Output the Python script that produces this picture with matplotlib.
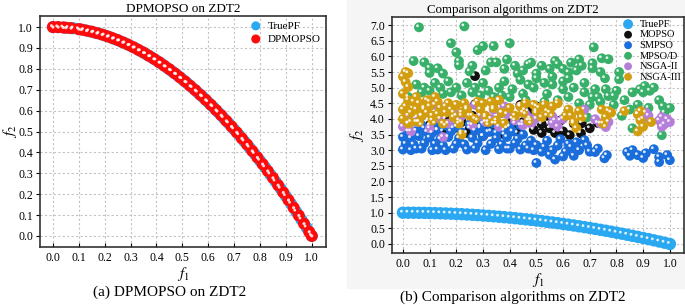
import numpy as np
import matplotlib
matplotlib.use('Agg')
from matplotlib import pyplot as plt
from matplotlib.transforms import ScaledTranslation
from matplotlib.patches import Rectangle

plt.rcParams['font.family'] = ['Liberation Serif', 'DejaVu Serif']
plt.rcParams['mathtext.fontset'] = 'stix'

# true Pareto front of ZDT2
true_f1 = [0.00, 0.02, 0.04, 0.06, 0.08, 0.10, 0.12, 0.14, 0.16, 0.18, 0.20, 0.22, 0.24, 0.26,
           0.28, 0.30, 0.32, 0.34, 0.36, 0.38, 0.40, 0.42, 0.44, 0.46, 0.48, 0.50, 0.52, 0.54,
           0.56, 0.58, 0.60, 0.62, 0.64, 0.66, 0.68, 0.70, 0.72, 0.74, 0.76, 0.78, 0.80, 0.82,
           0.84, 0.86, 0.88, 0.90, 0.92, 0.94, 0.96, 0.98, 1.00]
true_f2 = [1.000, 0.999, 0.998, 0.996, 0.994, 0.990, 0.986, 0.980, 0.974, 0.968, 0.960, 0.952,
           0.942, 0.932, 0.922, 0.910, 0.898, 0.884, 0.870, 0.856, 0.840, 0.824, 0.806, 0.788,
           0.770, 0.750, 0.730, 0.708, 0.686, 0.664, 0.640, 0.616, 0.590, 0.564, 0.538, 0.510,
           0.482, 0.452, 0.422, 0.392, 0.360, 0.328, 0.294, 0.260, 0.226, 0.190, 0.154, 0.116,
           0.078, 0.040, 0.000]

# DPMOPSO solutions
dp_f1 = [0.00, 0.02, 0.04, 0.05, 0.07, 0.10, 0.11, 0.13, 0.15, 0.17, 0.19, 0.21, 0.23, 0.25,
         0.27, 0.29, 0.31, 0.33, 0.35, 0.37, 0.39, 0.41, 0.43, 0.45, 0.47, 0.49, 0.51, 0.53,
         0.55, 0.57, 0.59, 0.61, 0.63, 0.65, 0.67, 0.69, 0.71, 0.73, 0.75, 0.77, 0.79, 0.81,
         0.83, 0.85, 0.87, 0.89, 0.91, 0.93, 0.95, 0.97, 0.99, 1.00]
dp_f2 = [1.000, 1.000, 0.998, 0.997, 0.995, 0.990, 0.988, 0.983, 0.978, 0.971, 0.964, 0.956,
         0.947, 0.938, 0.927, 0.916, 0.904, 0.891, 0.878, 0.863, 0.848, 0.832, 0.815, 0.798,
         0.779, 0.760, 0.740, 0.719, 0.698, 0.675, 0.652, 0.628, 0.603, 0.578, 0.551, 0.524,
         0.496, 0.467, 0.438, 0.407, 0.376, 0.344, 0.311, 0.278, 0.243, 0.208, 0.172, 0.135,
         0.098, 0.059, 0.020, 0.000]

mopso_f1 = [0.27, 0.27, 0.06, 0.10, 0.13, 0.16, 0.19, 0.22, 0.24, 0.26, 0.29, 0.31, 0.33, 0.35,
            0.37, 0.39, 0.41, 0.43, 0.45, 0.47, 0.49, 0.52, 0.52, 0.54, 0.57, 0.59, 0.625, 0.64,
            0.667, 0.67, 0.70, 0.73, 0.36, 0.44, 0.20, 0.30, 0.50, 0.457,
            0.15, 0.28, 0.32, 0.42, 0.48, 0.55, 0.60, 0.38, 0.25]
mopso_f2 = [5.37, 4.47, 3.90, 3.80, 3.65, 4.00, 3.70, 3.90, 3.55, 4.10, 3.75, 4.05, 3.60, 3.85,
            4.20, 3.70, 4.00, 3.55, 3.90, 4.25, 3.65, 3.83, 3.55, 4.10, 3.55, 3.95, 3.48, 3.85,
            3.54, 3.86, 3.70, 3.87, 4.60, 4.45, 4.10, 3.45, 4.40, 4.28,
            3.60, 3.95, 3.80, 3.85, 3.95, 3.70, 3.60, 3.50, 3.70]

smpso_f1 = [0.00, 0.03, 0.05, 0.11, 0.13, 0.16, 0.19, 0.24, 0.27, 0.31, 0.36, 0.40, 0.44,
            0.01, 0.04, 0.08, 0.12, 0.15, 0.20, 0.23, 0.28, 0.33, 0.37, 0.42, 0.46,
            0.00, 0.03, 0.06, 0.10, 0.14, 0.17, 0.21, 0.26, 0.30, 0.35, 0.39, 0.43,
            0.02, 0.05, 0.09, 0.13, 0.18, 0.22, 0.27, 0.32, 0.38, 0.41,
            0.07, 0.16, 0.25, 0.34, 0.44, 0.50,
            0.08, 0.11, 0.20, 0.29, 0.35, 0.40, 0.45, 0.02, 0.12, 0.30, 0.39, 0.07,
            0.47, 0.50, 0.50, 0.52, 0.53, 0.55, 0.56, 0.58, 0.60, 0.61, 0.63, 0.64, 0.66, 0.68,
            0.69, 0.72, 0.73, 0.755, 0.764, 0.54, 0.59, 0.65, 0.48, 0.57, 0.49, 0.62, 0.70,
            0.84, 0.86, 0.88, 0.90, 0.94, 0.96, 0.99, 1.00, 0.96, 0.85, 0.91]
smpso_f2 = [3.02, 3.00, 3.05, 3.00, 3.02, 3.00, 3.05, 3.02, 3.05, 3.00, 3.03, 3.05, 3.02,
            3.20, 3.18, 3.22, 3.20, 3.15, 3.20, 3.18, 3.22, 3.20, 3.18, 3.22, 3.15,
            3.42, 3.38, 3.45, 3.40, 3.35, 3.42, 3.38, 3.40, 3.45, 3.38, 3.42, 3.36,
            3.60, 3.62, 3.58, 3.63, 3.60, 3.57, 3.62, 3.58, 3.62, 3.60,
            3.80, 3.78, 3.82, 3.85, 3.80, 4.18,
            3.70, 3.55, 3.75, 3.70, 3.55, 3.75, 3.50, 3.85, 3.85, 3.85, 3.05, 3.05,
            3.05, 3.16, 2.59, 2.95, 3.10, 2.85, 3.00, 3.15, 2.80, 2.95, 3.10, 2.82, 3.00, 3.32,
            3.15, 2.94, 3.05, 2.74, 2.84, 3.30, 3.35, 3.25, 3.30, 2.70, 3.00, 3.20, 2.95,
            2.94, 3.00, 2.84, 2.75, 3.03, 2.78, 2.84, 2.68, 2.62, 2.82, 2.90]

mpsod_f1 = [0.06, 0.23, 0.18, 0.40, 0.30, 0.34, 0.20, 0.28, 0.04, 0.08, 0.21, 0.21, 0.25, 0.10,
            0.10, 0.13, 0.33, 0.35, 0.715, 0.745, 0.77, 0.71, 0.71, 0.62, 0.53, 0.56, 0.60, 0.757,
            0.81, 0.906, 0.888, 0.80, 0.79, 0.77, 0.71, 0.73, 0.974, 1.00, 0.97,
            0.38, 0.42, 0.45, 0.48, 0.50, 0.52, 0.55, 0.58, 0.60, 0.63, 0.65, 0.67, 0.44, 0.47,
            0.50, 0.38, 0.36, 0.41, 0.45, 0.30, 0.32, 0.27, 0.24, 0.20, 0.17, 0.14, 0.12, 0.08,
            0.05, 0.07, 0.15, 0.22, 0.26, 0.34, 0.40, 0.54, 0.58, 0.62, 0.66, 0.60, 0.64, 0.68,
            0.70, 0.74, 0.79, 0.83, 0.85, 0.88, 0.90, 0.925, 0.94, 0.82,
            0.86, 0.69, 0.46, 0.53, 0.98,
            0.02, 0.10, 0.18, 0.29, 0.37, 0.43, 0.49, 0.56, 0.62, 0.68, 0.72, 0.76, 0.86, 0.92,
            0.96, 0.15, 0.26, 0.31, 0.39, 0.47, 0.57, 0.66, 0.74, 0.81]
mpsod_f2 = [6.93, 6.96, 6.42, 6.42, 6.33, 6.33, 6.13, 6.20, 5.85, 5.81, 5.85, 5.72, 5.52, 5.63,
            5.47, 5.62, 5.81, 5.81, 6.29, 5.94, 5.91, 5.78, 5.62, 5.49, 5.15, 5.10, 5.20, 5.30,
            5.27, 5.05, 4.95, 4.90, 4.73, 4.73, 4.70, 4.70, 4.40, 4.35, 3.48,
            5.60, 5.70, 5.55, 5.80, 5.45, 5.70, 5.60, 5.75, 5.60, 5.80, 5.55, 5.70, 5.25, 5.10,
            5.30, 5.20, 5.00, 4.95, 4.80, 5.15, 4.90, 5.00, 5.15, 5.00, 5.20, 5.00, 5.15, 5.00,
            5.10, 4.85, 4.80, 4.75, 4.85, 4.70, 4.70, 4.80, 4.60, 4.70, 4.50, 4.95, 5.00, 4.85,
            4.45, 4.55, 4.45, 4.60, 4.30, 4.45, 4.85, 4.90, 5.00, 4.10,
            3.70, 4.05, 4.60, 4.55, 4.20,
            4.70, 4.90, 4.85, 4.75, 4.75, 5.45, 5.00, 5.35, 5.30, 5.15, 4.95, 4.95, 4.85, 4.35,
            4.60, 5.45, 5.70, 5.55, 5.90, 5.75, 5.85, 5.90, 5.50, 5.50]

nsga2_f1 = [0.00, 0.02, 0.05, 0.08, 0.10, 0.12, 0.14, 0.15, 0.17, 0.19, 0.21, 0.24, 0.26, 0.29,
            0.31, 0.34, 0.36, 0.39, 0.42, 0.44, 0.476, 0.48, 0.46, 0.56, 0.56, 0.57, 0.72, 0.76,
            0.74, 0.88, 0.91, 0.90, 0.97, 0.99, 0.98, 1.00, 0.96, 0.68, 0.10,
            0.03, 0.07, 0.16, 0.22, 0.27, 0.33, 0.38, 0.45, 0.50, 0.58, 0.60, 0.92, 0.97, 0.77]
nsga2_f2 = [3.75, 4.10, 3.90, 4.30, 3.70, 4.45, 4.00, 3.42, 3.85, 4.20, 3.95, 4.35, 3.80, 4.10,
            3.90, 4.30, 3.75, 4.15, 3.95, 4.40, 4.02, 3.85, 4.15, 4.08, 3.86, 3.95, 3.99, 3.74,
            3.85, 4.15, 4.20, 4.00, 4.06, 3.99, 3.83, 3.90, 3.95, 4.30, 4.55,
            3.60, 4.10, 4.40, 4.10, 4.45, 4.00, 4.40, 3.80, 4.00, 3.75, 4.00, 4.10, 3.75, 3.90]

nsga3_f1 = [0.01, 0.02, 0.01, 0.02, 0.00, 0.02, 0.01, 0.03, 0.00, 0.02, 0.05, 0.06, 0.05, 0.07,
            0.06, 0.09, 0.10, 0.09, 0.11, 0.13, 0.14, 0.13, 0.15, 0.17, 0.18, 0.19, 0.21, 0.22,
            0.23, 0.24, 0.25, 0.28, 0.29, 0.31, 0.33, 0.34, 0.35, 0.36, 0.37, 0.38, 0.44, 0.45,
            0.47, 0.49, 0.50, 0.53, 0.54, 0.56, 0.52, 0.62, 0.63, 0.64, 0.66, 0.65, 0.745, 0.76,
            0.75, 0.78, 0.83, 0.88, 0.89, 0.90, 0.88, 0.93, 0.58,
            0.04, 0.08, 0.12, 0.16, 0.20, 0.27, 0.32, 0.40, 0.42, 0.46, 0.03, 0.00, 0.11, 0.22,
            0.30, 0.51, 0.55, 0.61, 0.67, 0.77, 0.89, 0.00]
nsga3_f2 = [5.50, 5.46, 5.18, 5.02, 4.80, 4.60, 4.40, 4.20, 4.00, 3.85, 4.70, 4.50, 4.30, 4.10,
            3.90, 4.60, 4.40, 4.20, 3.95, 4.55, 4.35, 4.15, 3.85, 4.50, 4.30, 4.05, 3.85, 3.50,
            4.50, 4.30, 4.10, 4.55, 4.30, 4.10, 4.55, 4.35, 3.95, 4.60, 4.20, 3.85, 4.40, 4.20,
            3.95, 4.45, 4.25, 4.45, 4.25, 4.40, 4.05, 4.30, 4.10, 3.90, 4.25, 3.70, 4.30, 4.05,
            3.85, 4.20, 4.25, 4.15, 3.95, 3.75, 3.60, 3.90, 4.50,
            4.55, 4.35, 4.70, 4.20, 4.45, 4.00, 3.90, 4.35, 4.10, 4.50, 3.90, 4.30, 4.10, 4.20,
            4.50, 4.35, 4.20, 4.10, 4.05, 4.25, 4.25, 5.35]

c_true = '#2aa8f2'
c_red = '#ff0a0a'
c_mopso = '#101010'
c_smpso = '#1a6edb'
c_mpsod = '#38b06a'
c_nsga2 = '#b57ed9'
c_nsga3 = '#d29e10'

fig = plt.figure(figsize=(6.85, 3.05), dpi=100)
fig.patches.append(Rectangle((347 / 685, 1 - 288 / 305), 1 - 347 / 685, 288 / 305,
                             transform=fig.transFigure, color='#f5f5f5', zorder=-10))


def balls(ax, x, y, col, s, label, hl=(-1.5, 1.5), hs=4):
    ax.scatter(x, y, s=s, color=col, edgecolors='none', label=label, zorder=3)
    off = ScaledTranslation(hl[0] / 100, hl[1] / 100, fig.dpi_scale_trans)
    ax.scatter(x, y, s=hs, color='white', alpha=0.85, edgecolors='none',
               transform=ax.transData + off, zorder=4)


def style(ax):
    ax.grid(True, ls=(0, (2, 2)), color='#c4c4c4', lw=0.8)
    ax.set_axisbelow(True)
    for sp in ax.spines.values():
        sp.set_color('#333333')
        sp.set_linewidth(1.2)
    ax.tick_params(axis='x', direction='in', labelsize=8.5, length=3)
    ax.tick_params(axis='y', direction='out', labelsize=8.5, length=3, pad=2)
    ax.set_xticks(np.arange(0, 1.01, 0.1))
    ax.set_xlabel('$f_1$', fontsize=11, labelpad=1)
    ax.set_ylabel('$f_2$', fontsize=11)


# (a)
ax1 = fig.add_axes([40 / 685, 1 - 247 / 305, 286 / 685, 231 / 305])
balls(ax1, true_f1, true_f2, c_true, 75, 'TruePF')
balls(ax1, dp_f1, dp_f2, c_red, 75, 'DPMOPSO', hl=(0, 0), hs=5)
ax1.set_xlim(-0.05, 1.055)
ax1.set_ylim(-0.053, 1.053)
ax1.set_yticks(np.arange(0, 1.01, 0.1))
style(ax1)
ax1.yaxis.set_label_coords(-0.075, 0.5)
ax1.set_title('DPMOPSO on ZDT2', fontsize=9.5, pad=3)
ax1.legend(loc='upper right', frameon=False, fontsize=8, handletextpad=0.1,
           borderaxespad=0.05, labelspacing=0.3, markerscale=0.75)

# (b)
ax2 = fig.add_axes([392 / 685, 1 - 253 / 305, 292 / 685, 236 / 305])
balls(ax2, true_f1, true_f2, c_true, 80, 'TruePF')
balls(ax2, mopso_f1, mopso_f2, c_mopso, 50, 'MOPSO')
balls(ax2, smpso_f1, smpso_f2, c_smpso, 50, 'SMPSO')
balls(ax2, mpsod_f1, mpsod_f2, c_mpsod, 50, 'MPSO/D')
balls(ax2, nsga2_f1, nsga2_f2, c_nsga2, 50, 'NSGA-II')
balls(ax2, nsga3_f1, nsga3_f2, c_nsga3, 50, 'NSGA-III')
ax2.set_xlim(-0.041, 1.053)
ax2.set_ylim(-0.29, 7.26)
ax2.set_yticks(np.arange(0, 7.01, 0.5))
style(ax2)
ax2.yaxis.set_label_coords(-0.09, 0.5)
ax2.set_title('Comparison algorithms on ZDT2', fontsize=9.3, pad=3, x=(513 - 392) / 292)
ax2.legend(loc='upper right', frameon=False, fontsize=7.5, handletextpad=0.1,
           borderaxespad=0.05, borderpad=0.2, labelspacing=0.12, markerscale=0.8)

fig.text(170 / 685, 1 - 292 / 305, '(a) DPMOPSO on ZDT2', ha='center', va='center', fontsize=11)
fig.text(513 / 685, 1 - 297 / 305, '(b) Comparison algorithms on ZDT2', ha='center', va='center',
         fontsize=11)

fig.savefig('out.png', dpi=100)
